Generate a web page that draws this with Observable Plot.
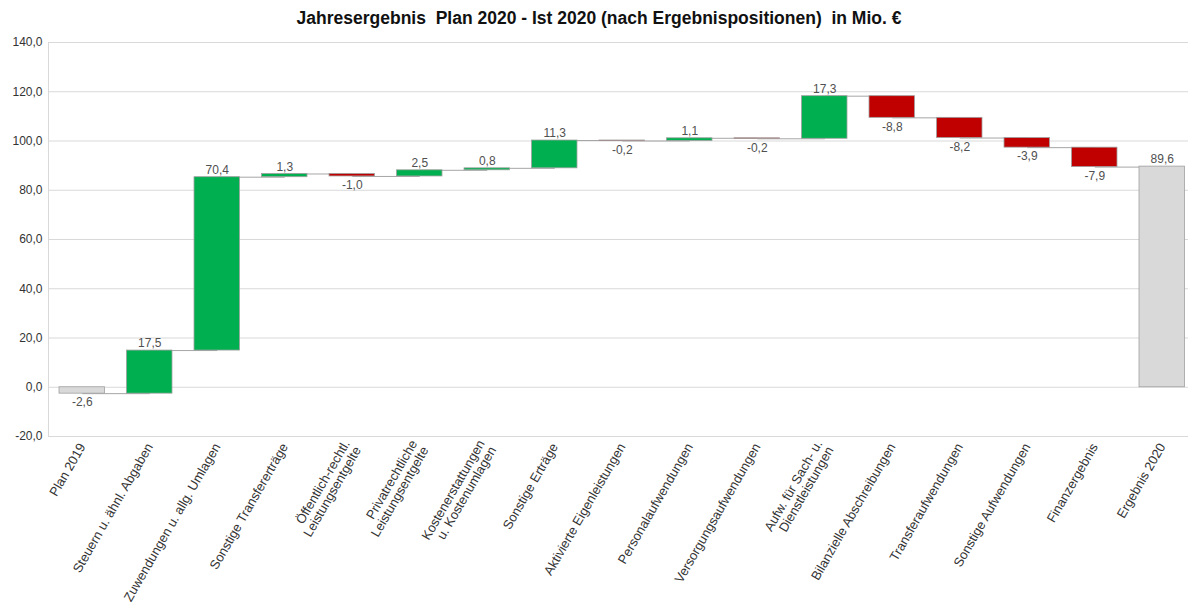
<!DOCTYPE html>
<html><head><meta charset="utf-8">
<script src="https://cdn.jsdelivr.net/npm/d3@7"></script>
<script src="https://cdn.jsdelivr.net/npm/@observablehq/plot@0.6"></script>
<style>
body{margin:0;background:#fff;font-family:"Liberation Sans",Arial,sans-serif;}
#title{height:30px;line-height:36px;text-align:center;font-weight:bold;font-size:17.5px;white-space:pre;padding-left:10px;color:#111;overflow:visible}
</style></head><body>
<div id="title">Jahresergebnis  Plan 2020 - Ist 2020 (nach Ergebnispositionen)  in Mio. €</div>
<div id="chart"></div>
<script>
const categories = [
  "Plan 2019",
  "Steuern u. ähnl. Abgaben",
  "Zuwendungen u. allg. Umlagen",
  "Sonstige Transfererträge",
  "Öffentlich-rechtl.\nLeistungsentgelte",
  "Privatrechtliche\nLeistungsentgelte",
  "Kostenerstattungen\nu. Kostenumlagen",
  "Sonstige Erträge",
  "Aktivierte Eigenleistungen",
  "Personalaufwendungen",
  "Versorgungsaufwendungen",
  "Aufw. für Sach- u.\nDienstleistungen",
  "Bilanzielle Abschreibungen",
  "Transferaufwendungen",
  "Sonstige Aufwendungen",
  "Finanzergebnis",
  "Ergebnis 2020"
];
const values = [-2.6, 17.5, 70.4, 1.3, -1.0, 2.5, 0.8, 11.3, -0.2, 1.1, -0.2, 17.3, -8.8, -8.2, -3.9, -7.9, 89.6];
const kinds = ["total","delta","delta","delta","delta","delta","delta","delta","delta","delta","delta","delta","delta","delta","delta","delta","total"];
const yTicks = [-20, 0, 20, 40, 60, 80, 100, 120, 140];

const colors = {total: "#d9d9d9", up: "#00b050", down: "#c00000"};
const locale = d3.formatLocale({decimal: ",", thousands: ".", grouping: [3], currency: ["", "€"], minus: "-"});
const fmt = locale.format(".1f");

let running = 0;
const rows = categories.map((c, i) => {
  const v = values[i];
  let y1, y2, kind;
  if (kinds[i] === "total") { y1 = 0; y2 = v; running = v; kind = "total"; }
  else { y1 = running; y2 = running + v; running = y2; kind = v >= 0 ? "up" : "down"; }
  const ly = v >= 0 ? Math.max(y1, y2) : Math.min(y1, y2);
  return {cat: c, y1, y2, end: y2, kind, v, ly, label: fmt(v)};
});
const links = rows.slice(0, -1).map((r, i) => ({a: r.cat, b: rows[i + 1].cat, y: r.end}));

const chart = Plot.plot({
  width: 1188,
  height: 578,
  marginTop: 12,
  marginBottom: 172,
  marginLeft: 48,
  marginRight: 0,
  style: {fontFamily: "'Liberation Sans', Arial, sans-serif", fontSize: "12px", color: "#333", background: "#fff"},
  x: {domain: categories, range: [48, 1195.5], paddingInner: 0.326, paddingOuter: 0.163, round: false, label: null},
  y: {domain: [-20, 140], label: null},
  marks: [
    Plot.gridY(yTicks, {stroke: "#d9d9d9", strokeOpacity: 1}),
    Plot.frame({anchor: "left", stroke: "#d9d9d9"}),
    Plot.axisY({ticks: yTicks, tickFormat: fmt, tickSize: 0, tickPadding: 6, fontSize: 12, label: null}),
    Plot.axisX({tickRotate: -60, tickSize: 0, tickPadding: 8, fontSize: 13, label: null}),
    Plot.link(links, {x1: "a", x2: "b", y1: "y", y2: "y", stroke: "#a6a6a6", strokeWidth: 1}),
    Plot.barY(rows, {x: "cat", y1: "y1", y2: "y2", fill: d => colors[d.kind], stroke: "#a0a0a0", strokeWidth: 0.8}),
    Plot.text(rows.filter(d => d.v >= 0), {x: "cat", y: "ly", text: "label", dy: -7, fill: "#505050", fontSize: 12}),
    Plot.text(rows.filter(d => d.v < 0), {x: "cat", y: "ly", text: "label", dy: 9, fill: "#505050", fontSize: 12})
  ]
});
document.getElementById("chart").appendChild(chart);
</script>
</body></html>
